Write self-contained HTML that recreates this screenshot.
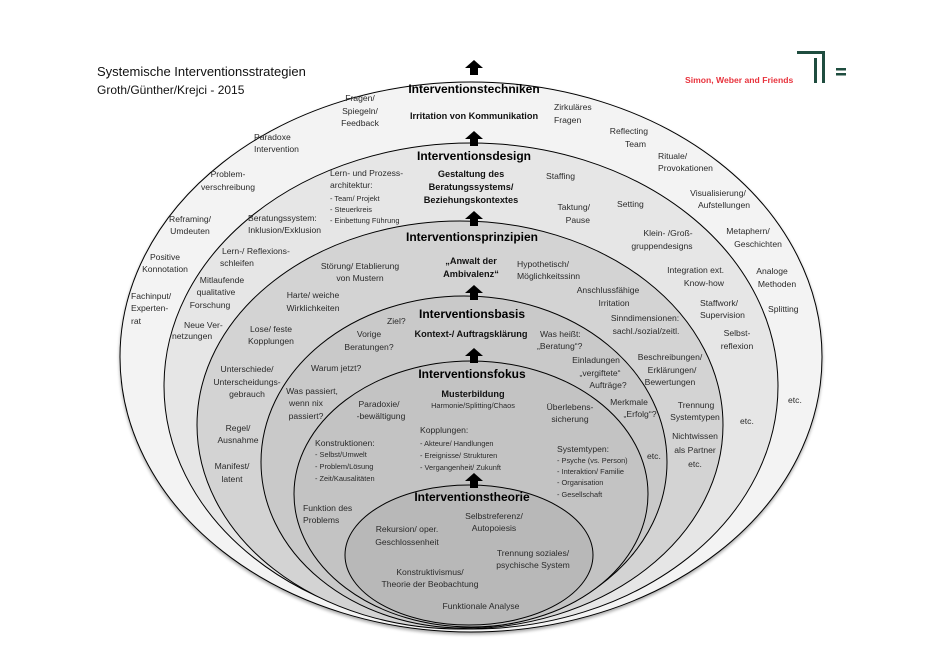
<!DOCTYPE html>
<html><head><meta charset="utf-8"><style>
html,body{margin:0;padding:0;background:#fff;}
svg{display:block;}
text{font-family:"Liberation Sans",sans-serif;fill:#2a2a2a;}
.s{font-size:8.6px;}
.xs{font-size:7.4px;}
.h{font-size:12px;font-weight:bold;fill:#000;}
.b{font-size:9.2px;font-weight:bold;fill:#111;}
.m{text-anchor:middle;}
.e{text-anchor:end;}
</style></head><body>
<svg width="943" height="666" viewBox="0 0 943 666" xmlns="http://www.w3.org/2000/svg">
<defs><filter id="sh" x="-5%" y="-5%" width="110%" height="112%"><feGaussianBlur in="SourceAlpha" stdDeviation="1.5"/><feOffset dx="0" dy="2"/><feComponentTransfer><feFuncA type="linear" slope="0.35"/></feComponentTransfer><feMerge><feMergeNode/><feMergeNode in="SourceGraphic"/></feMerge></filter>
<g id="ar"><polygon points="0,-7 -9,1 -4,1 -4,8 4,8 4,1 9,1" fill="#000"/></g></defs>
<text x="97" y="76" style="font-size:13px;fill:#111">Systemische Interventionsstrategien</text>
<text x="97" y="94" style="font-size:12px;fill:#111">Groth/Günther/Krejci - 2015</text>
<text x="685" y="83" style="font-size:8.6px;font-weight:bold;fill:#e8323c">Simon, Weber and Friends</text>
<rect x="797" y="51" width="28" height="3" fill="#1f4d3f"/>
<rect x="822" y="51" width="3" height="32" fill="#1f4d3f"/>
<rect x="814" y="58" width="3" height="25" fill="#1f4d3f"/>
<rect x="836" y="68" width="10" height="2.5" fill="#1f4d3f"/>
<rect x="836" y="73" width="10" height="2.5" fill="#1f4d3f"/>

<g stroke="#000" stroke-width="1" filter="url(#sh)">
<ellipse cx="471" cy="357" rx="351" ry="275" fill="#f3f3f3"/>
<ellipse cx="471" cy="386" rx="307" ry="243" fill="#e6e6e6"/>
<ellipse cx="460" cy="425" rx="263" ry="204" fill="#d3d3d3"/>
<ellipse cx="464" cy="462" rx="203" ry="166" fill="#c9c9c9"/>
<ellipse cx="471" cy="494" rx="177" ry="133" fill="#c3c3c3"/>
<ellipse cx="469" cy="555" rx="124" ry="70" fill="#b8b8b8"/>
</g>
<use href="#ar" x="474" y="67"/>
<use href="#ar" x="474" y="138"/>
<use href="#ar" x="474" y="218"/>
<use href="#ar" x="474" y="292"/>
<use href="#ar" x="474" y="355"/>
<use href="#ar" x="474" y="480"/>

<text class="h m" x="474" y="93">Interventionstechniken</text>
<text class="b m" x="474" y="119">Irritation von Kommunikation</text>
<text class="h m" x="474" y="160">Interventionsdesign</text>
<text class="b m" x="471" y="177">Gestaltung des</text>
<text class="b m" x="471" y="190">Beratungssystems/</text>
<text class="b m" x="471" y="203">Beziehungskontextes</text>
<text class="h m" x="472" y="241">Interventionsprinzipien</text>
<text class="b m" x="471" y="264">„Anwalt der</text>
<text class="b m" x="471" y="277">Ambivalenz“</text>
<text class="h m" x="472" y="318">Interventionsbasis</text>
<text class="b m" x="471" y="337">Kontext-/ Auftragsklärung</text>
<text class="h m" x="472" y="378">Interventionsfokus</text>
<text class="b m" x="473" y="397">Musterbildung</text>
<text class="xs m" x="473" y="408">Harmonie/Splitting/Chaos</text>
<text class="h m" x="472" y="501">Interventionstheorie</text>

<g class="s">
<text class="m" x="360" y="101">Fragen/</text><text class="m" x="360" y="114">Spiegeln/</text><text class="m" x="360" y="126">Feedback</text>
<text x="554" y="110">Zirkuläres</text><text x="554" y="123">Fragen</text>
<text class="e" x="648" y="134">Reflecting</text><text class="e" x="646" y="147">Team</text>
<text x="254" y="140">Paradoxe</text><text x="254" y="152">Intervention</text>
<text x="658" y="159">Rituale/</text><text x="658" y="171">Provokationen</text>
<text class="m" x="228" y="177">Problem-</text><text class="m" x="228" y="190">verschreibung</text>
<text class="m" x="718" y="196">Visualisierung/</text><text class="m" x="724" y="208">Aufstellungen</text>
<text class="m" x="190" y="222">Reframing/</text><text class="m" x="190" y="234">Umdeuten</text>
<text class="m" x="748" y="234">Metaphern/</text><text class="m" x="758" y="247">Geschichten</text>
<text class="m" x="165" y="260">Positive</text><text class="m" x="165" y="272">Konnotation</text>
<text class="m" x="772" y="274">Analoge</text><text class="m" x="777" y="287">Methoden</text>
<text x="131" y="299">Fachinput/</text><text x="131" y="311">Experten-</text><text x="131" y="324">rat</text>
<text x="768" y="312">Splitting</text>
<text x="788" y="403">etc.</text>

<text x="330" y="176">Lern- und Prozess-</text><text x="330" y="188">architektur:</text>
<text class="xs" x="330" y="201">- Team/ Projekt</text><text class="xs" x="330" y="212">- Steuerkreis</text><text class="xs" x="330" y="223">- Einbettung Führung</text>
<text x="546" y="179">Staffing</text>
<text class="e" x="590" y="210">Taktung/</text><text class="e" x="590" y="223">Pause</text>
<text x="617" y="207">Setting</text>
<text x="248" y="221">Beratungssystem:</text><text x="248" y="233">Inklusion/Exklusion</text>
<text class="m" x="668" y="236">Klein- /Groß-</text><text class="m" x="662" y="249">gruppendesigns</text>
<text x="222" y="254">Lern-/ Reflexions-</text><text x="220" y="266">schleifen</text>
<text class="m" x="222" y="283">Mitlaufende</text><text class="m" x="216" y="295">qualitative</text><text class="m" x="210" y="308">Forschung</text>
<text class="e" x="724" y="273">Integration ext.</text><text class="e" x="724" y="286">Know-how</text>
<text x="184" y="328">Neue  Ver-</text><text x="172" y="339">netzungen</text>
<text x="700" y="306">Staffwork/</text><text x="700" y="318">Supervision</text>
<text class="m" x="737" y="336">Selbst-</text><text class="m" x="737" y="349">reflexion</text>
<text x="740" y="424">etc.</text>

<text class="m" x="360" y="269">Störung/ Etablierung</text><text class="m" x="360" y="281">von Mustern</text>
<text x="517" y="267">Hypothetisch/</text><text x="517" y="279">Möglichkeitssinn</text>
<text class="m" x="313" y="298">Harte/ weiche</text><text class="m" x="313" y="311">Wirklichkeiten</text>
<text class="m" x="608" y="293">Anschlussfähige</text><text class="m" x="614" y="306">Irritation</text>
<text class="m" x="271" y="332">Lose/ feste</text><text class="m" x="271" y="344">Kopplungen</text>
<text class="m" x="645" y="321">Sinndimensionen:</text><text class="m" x="646" y="334">sachl./sozial/zeitl.</text>
<text class="m" x="247" y="372">Unterschiede/</text><text class="m" x="247" y="385">Unterscheidungs-</text><text class="m" x="247" y="397">gebrauch</text>
<text class="m" x="670" y="360">Beschreibungen/</text><text class="m" x="672" y="373">Erklärungen/</text><text class="m" x="670" y="385">Bewertungen</text>
<text class="m" x="696" y="408">Trennung</text><text class="m" x="695" y="420">Systemtypen</text>
<text class="m" x="238" y="431">Regel/</text><text class="m" x="238" y="443">Ausnahme</text>
<text class="m" x="695" y="439">Nichtwissen</text><text class="m" x="695" y="453">als Partner</text>
<text class="m" x="695" y="467">etc.</text>
<text class="m" x="232" y="469">Manifest/</text><text class="m" x="232" y="482">latent</text>

<text x="387" y="324">Ziel?</text>
<text class="m" x="369" y="337">Vorige</text><text class="m" x="369" y="350">Beratungen?</text>
<text x="540" y="337">Was heißt:</text><text x="537" y="349">„Beratung“?</text>
<text x="311" y="371">Warum jetzt?</text>
<text class="m" x="596" y="363">Einladungen</text><text class="m" x="600" y="376">„vergiftete“</text><text class="m" x="608" y="388">Aufträge?</text>
<text class="m" x="312" y="394">Was passiert,</text><text class="m" x="306" y="406">wenn nix</text><text class="m" x="306" y="419">passiert?</text>
<text class="m" x="629" y="405">Merkmale</text><text class="m" x="640" y="417">„Erfolg“?</text>
<text x="647" y="459">etc.</text>
<text x="303" y="511">Funktion des</text><text x="303" y="523">Problems</text>

<text class="m" x="379" y="407">Paradoxie/</text><text class="m" x="381" y="419">-bewältigung</text>
<text class="m" x="570" y="410">Überlebens-</text><text class="m" x="570" y="422">sicherung</text>
<text x="420" y="433">Kopplungen:</text>
<text class="xs" x="420" y="446">- Akteure/ Handlungen</text><text class="xs" x="420" y="458">- Ereignisse/ Strukturen</text><text class="xs" x="420" y="470">- Vergangenheit/ Zukunft</text>
<text x="315" y="446">Konstruktionen:</text>
<text class="xs" x="315" y="457">- Selbst/Umwelt</text><text class="xs" x="315" y="469">- Problem/Lösung</text><text class="xs" x="315" y="481">- Zeit/Kausalitäten</text>
<text x="557" y="452">Systemtypen:</text>
<text class="xs" x="557" y="463">- Psyche (vs. Person)</text><text class="xs" x="557" y="474">- Interaktion/ Familie</text><text class="xs" x="557" y="485">- Organisation</text><text class="xs" x="557" y="497">- Gesellschaft</text>

<text class="m" x="494" y="519">Selbstreferenz/</text><text class="m" x="494" y="531">Autopoiesis</text>
<text class="m" x="407" y="532">Rekursion/ oper.</text><text class="m" x="407" y="545">Geschlossenheit</text>
<text class="m" x="533" y="556">Trennung soziales/</text><text class="m" x="533" y="568">psychische System</text>
<text class="m" x="430" y="575">Konstruktivismus/</text><text class="m" x="430" y="587">Theorie der Beobachtung</text>
<text class="m" x="481" y="609">Funktionale Analyse</text>
</g>
</svg>
</body></html>
